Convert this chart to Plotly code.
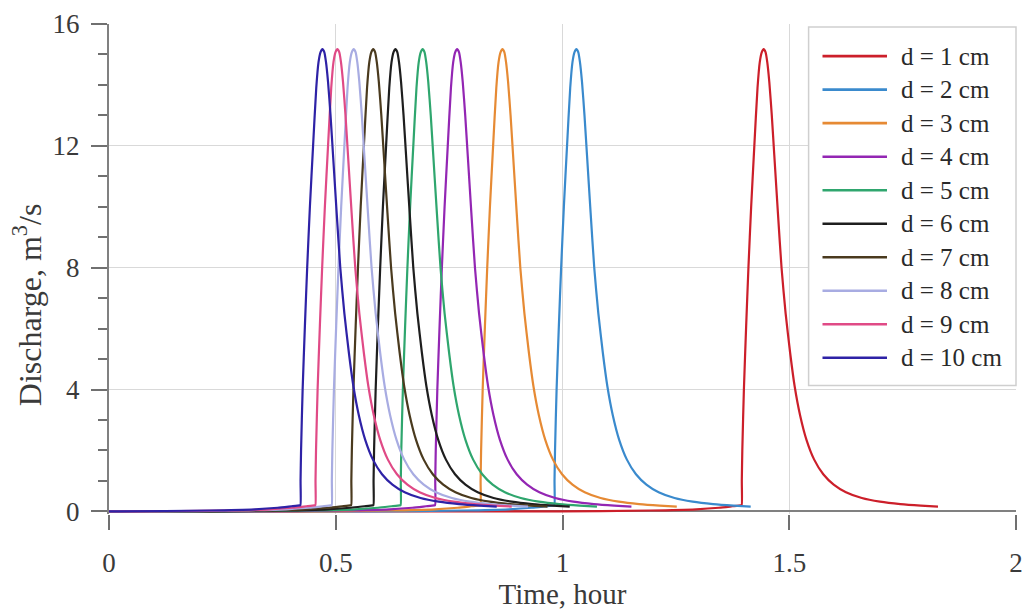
import plotly.graph_objects as go

# ---------------- data ----------------
labels = ["d = 1 cm", "d = 2 cm", "d = 3 cm", "d = 4 cm", "d = 5 cm",
          "d = 6 cm", "d = 7 cm", "d = 8 cm", "d = 9 cm", "d = 10 cm"]
colors = ["#CC1F2A", "#3A8ACD", "#E68A34", "#9326B3", "#2FA66E",
          "#1E1E1E", "#4A3A1E", "#A8ACE2", "#E04A86", "#2E22A6"]
# time (hour) at which each hydrograph jumps up
jump_time = [1.395, 0.982, 0.819, 0.719, 0.643, 0.583, 0.534, 0.491, 0.455, 0.422]

# slowly rising baseline before the jump (offset from jump, discharge)
pre_dt = [-0.40, -0.20, -0.10, -0.05, -0.02, -0.002]
pre_q = [0.0, 0.03, 0.07, 0.12, 0.17, 0.20]
# hydrograph after the jump (offset from jump in hour, discharge m3/s)
hyd_dt = [0.0, 0.0004, 0.0015, 0.005, 0.010, 0.015, 0.021, 0.028, 0.035, 0.040,
          0.0445, 0.0486, 0.0527, 0.0565, 0.0610, 0.0665, 0.0720, 0.0800, 0.0880,
          0.0970, 0.1070, 0.1170, 0.1290, 0.1430, 0.1600, 0.1800, 0.2030, 0.2300,
          0.2650, 0.3050, 0.3500, 0.3950, 0.4330]
hyd_q = [0.20, 1.0, 2.0, 4.0, 6.1, 8.0, 10.0, 12.0, 13.9, 14.75,
         15.08, 15.18, 15.08, 14.75, 14.1, 13.0, 11.7, 9.8, 8.0,
         6.5, 5.2, 4.1, 3.15, 2.35, 1.7, 1.22, 0.88, 0.63,
         0.44, 0.32, 0.24, 0.19, 0.16]

x_ticks = [0, 0.5, 1, 1.5, 2]
x_ticktext = ["0", "0.5", "1", "1.5", "2"]
y_ticks = [0, 4, 8, 12, 16]

# ---------------- figure ----------------
W, H = 1032, 610
ML, MR, MT, MB = 109, 9, 22, 85
PW, PH = W - ML - MR, H - MT - MB
FONT = "Liberation Serif, Times New Roman, serif"

def px_x(px):
    return (px - ML) / PW

def px_y(py):
    return (H - MB - py) / PH

fig = go.Figure()
for lab, col, tj in zip(labels, colors, jump_time):
    t = [0.0]
    q = [0.0]
    for dt, v in zip(pre_dt, pre_q):
        if tj + dt > 0.005:
            t.append(tj + dt)
            q.append(v)
    for dt, v in zip(hyd_dt, hyd_q):
        t.append(tj + dt)
        q.append(v)
    fig.add_trace(go.Scatter(x=t, y=q, mode="lines", name=lab,
                             line=dict(color=col, width=2.2, shape="spline", smoothing=0.6),
                             showlegend=False))

tick_font = dict(family=FONT, size=27, color="#3a3a3a")
fig.update_layout(
    width=W, height=H,
    margin=dict(l=ML, r=MR, t=MT, b=MB),
    paper_bgcolor="white", plot_bgcolor="white",
    font=dict(family=FONT, color="#3a3a3a"),
    xaxis=dict(range=[0, 2], tickvals=x_ticks, ticktext=x_ticktext,
               showgrid=True, gridcolor="#d9d9d9", gridwidth=1,
               showline=False, zeroline=False,
               ticks="outside", ticklen=15, tickwidth=2, tickcolor="#707070",
               tickfont=tick_font, ticklabelstandoff=10,
               title=dict(text="Time, hour", font=dict(family=FONT, size=29, color="#3a3a3a"),
                          standoff=2)),
    yaxis=dict(range=[-0.085, 16], tickvals=y_ticks,
               showgrid=True, gridcolor="#d9d9d9", gridwidth=1,
               showline=True, linecolor="#808080", linewidth=2,
               zeroline=True, zerolinecolor="#808080", zerolinewidth=2,
               ticks="outside", ticklen=16, tickwidth=2, tickcolor="#707070",
               minor=dict(dtick=1, ticks="outside", ticklen=9, tickwidth=1.5,
                          tickcolor="#707070", showgrid=False),
               tickfont=tick_font, ticklabelstandoff=6),
)

# y-axis title (rotated real text)
fig.add_annotation(x=px_x(26), y=px_y(310), xref="paper", yref="paper",
                   text="Discharge, m<sup>3</sup>/s", textangle=-90, showarrow=False,
                   xanchor="center", yanchor="middle",
                   font=dict(family=FONT, size=32, color="#3a3a3a"))

# ---------------- legend drawn as real text ----------------
lx0, lx1, ly0, ly1 = 814, 1023, 25, 393
fig.add_shape(type="rect", xref="paper", yref="paper",
              x0=px_x(lx0), x1=px_x(lx1), y0=px_y(ly1), y1=px_y(ly0),
              line=dict(color="#cfcfcf", width=1.5), fillcolor="white", layer="above")
for i, (lab, col) in enumerate(zip(labels, colors)):
    yc = 55 + 34.4 * i
    fig.add_shape(type="line", xref="paper", yref="paper",
                  x0=px_x(828), x1=px_x(893), y0=px_y(yc), y1=px_y(yc),
                  line=dict(color=col, width=2.6), layer="above")
    fig.add_annotation(x=px_x(905), y=px_y(yc), xref="paper", yref="paper",
                       text=lab, showarrow=False, xanchor="left", yanchor="middle",
                       font=dict(family=FONT, size=25, color="#2a2a2a"))

fig.write_html("out.html")
